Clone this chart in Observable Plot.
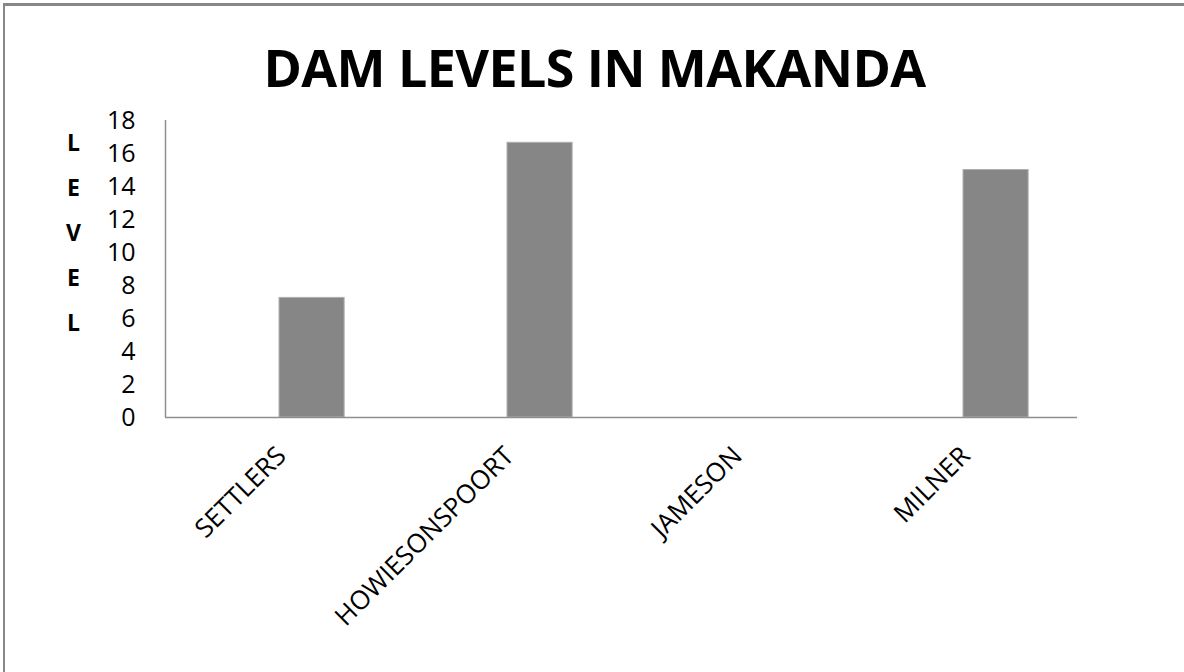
<!DOCTYPE html>
<html><head><meta charset="utf-8">
<script src="https://cdn.jsdelivr.net/npm/d3@7"></script>
<script src="https://cdn.jsdelivr.net/npm/@observablehq/plot@0.6"></script>
<style>
html,body{margin:0;padding:0;background:#fff;}
#page{position:relative;width:1184px;height:672px;overflow:hidden;background:#fff;}
#topline{position:absolute;left:3px;top:3px;width:1181px;height:3px;background:#878787;}
#leftline{position:absolute;left:3px;top:3px;width:2px;height:669px;background:#878787;}
#title{position:absolute;left:5px;width:1179px;top:41px;text-align:center;font-family:"Open Sans";font-weight:700;font-size:52px;line-height:52px;color:#000;letter-spacing:-0.6px;}
#chart{position:absolute;left:5px;top:100px;}
</style></head><body>
<div id="page"><div id="topline"></div><div id="leftline"></div><div id="title">DAM LEVELS IN MAKANDA</div><div id="chart"></div></div>
<script>
const dams = ["SETTLERS", "HOWIESONSPOORT", "JAMESON", "MILNER"];
const levels = [7.25, 16.65, 0, 15];
const yTicks = [0, 2, 4, 6, 8, 10, 12, 14, 16, 18];
const axisTitleLetters = ["L", "E", "V", "E", "L"];

const data = dams.map((d, i) => ({dam: d, level: levels[i]}));

const W = 1179, H = 572, mL = 160, mR = 107, mT = 20, mB = 255;
const step = (W - mL - mR) / dams.length;
const barW = step / 3.5; // Excel clustered bars, gap width 150%, 2 series

const chart = Plot.plot({
  width: W, height: H,
  marginLeft: mL, marginRight: mR, marginTop: mT, marginBottom: mB,
  style: {fontFamily: "Open Sans", color: "#000", background: "transparent"},
  x: {domain: dams, padding: 0, axis: null},
  y: {domain: [0, 18], axis: null},
  marks: [
    Plot.barY(data, {x: "dam", y: "level", fill: "#868686", stroke: "#b0b0b0", strokeWidth: 1,
      insetLeft: step / 2, insetRight: step / 2 - barW}),
    Plot.ruleY([0], {stroke: "#8f8f8f", strokeWidth: 1.5}),
    Plot.ruleX([dams[0]], {y1: 0, y2: 18, dx: -step / 2, stroke: "#8f8f8f", strokeWidth: 1.5}),
    Plot.axisY({ticks: yTicks, tickSize: 0, tickPadding: 30, fontSize: 25, label: null, fill: "#000"}),
    Plot.text(dams, {x: d => d, frameAnchor: "bottom", rotate: -45, textAnchor: "end", lineAnchor: "bottom",
      dx: 8, dy: 40, fontSize: 26, fill: "#000"}),
    Plot.text([axisTitleLetters.join("\n")], {frameAnchor: "top-left", dx: -92, dy: 106, lineAnchor: "middle",
      lineHeight: 1.96, fontWeight: 700, fontSize: 23, textAnchor: "middle", fill: "#000"})
  ]
});
document.getElementById("chart").appendChild(chart);
</script>
</body></html>
